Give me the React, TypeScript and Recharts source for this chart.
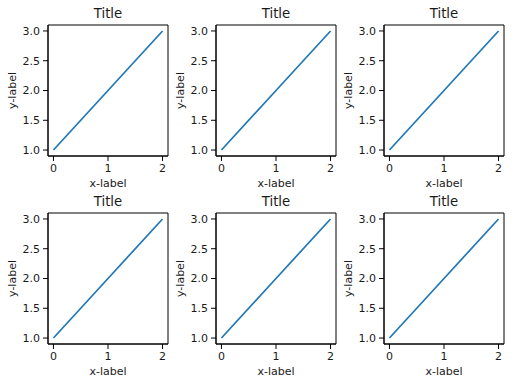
import React from 'react';
import { LineChart, Line, XAxis, YAxis, ReferenceArea } from 'recharts';

const xValues = [0, 1, 2];
const yValues = [1, 2, 3];
const xTicks = [0, 1, 2];
const yTicks = [1.0, 1.5, 2.0, 2.5, 3.0];
const titles = ['Title', 'Title', 'Title', 'Title', 'Title', 'Title'];
const xLabel = 'x-label';
const yLabel = 'y-label';

const data = xValues.map((x, i) => ({ x, y: yValues[i] }));

const FONT = 'DejaVu Sans, sans-serif';
const COL_W = 168;
const ROW_H = 188;
const PLOT_L = 48;
const PLOT_T = 25;
const PLOT_W = 120;
const PLOT_H = 131;
const TEXT = '#1a1a1a';

function Panel({ left, top }: { left: number; top: number }) {
  return (
    <div style={{ position: 'absolute', left, top, width: 170, height: 188 }}>
      <LineChart width={170} height={188} data={data} margin={{ top: PLOT_T, right: 2, bottom: 0, left: 0 }}>
        <XAxis
          dataKey="x"
          type="number"
          domain={[-0.1, 2.1]}
          ticks={xTicks}
          height={32}
          tickSize={5}
          tickMargin={3}
          axisLine={{ stroke: '#000', strokeWidth: 1 }}
          tickLine={{ stroke: '#000', strokeWidth: 1 }}
          tick={{ fill: TEXT, fontSize: 11, fontFamily: FONT }}
          allowDataOverflow
        />
        <YAxis
          type="number"
          domain={[0.9, 3.1]}
          ticks={yTicks}
          width={48}
          tickSize={5}
          tickMargin={3}
          tickFormatter={(v: number) => v.toFixed(1)}
          axisLine={{ stroke: '#000', strokeWidth: 1 }}
          tickLine={{ stroke: '#000', strokeWidth: 1 }}
          tick={{ fill: TEXT, fontSize: 11, fontFamily: FONT }}
          allowDataOverflow
        />
        <ReferenceArea x1={-0.1} x2={2.1} y1={0.9} y2={3.1} fill="none" stroke="#000" strokeWidth={1} fillOpacity={0} />
        <Line type="linear" dataKey="y" stroke="#1f77b4" strokeWidth={1.7} dot={false} isAnimationActive={false} />
      </LineChart>
    </div>
  );
}

export default function App() {
  const panels: { r: number; c: number }[] = [];
  for (let r = 0; r < 2; r++) for (let c = 0; c < 3; c++) panels.push({ r, c });
  return (
    <div style={{ position: 'absolute', left: 0, top: 0, width: 512, height: 384, background: '#fff', fontFamily: FONT, overflow: 'hidden' }}>
      {panels.map(({ r, c }) => (
        <Panel key={`${r}-${c}`} left={c * COL_W} top={r * ROW_H} />
      ))}
      <svg width={512} height={384} style={{ position: 'absolute', left: 0, top: 0, pointerEvents: 'none' }}>
        {panels.map(({ r, c }, i) => {
          const cx = c * COL_W + PLOT_L + PLOT_W / 2;
          const cy = r * ROW_H + PLOT_T + PLOT_H / 2;
          const lx = c * COL_W + 15.5;
          return (
            <g key={i} fontFamily={FONT} fill={TEXT}>
              <text x={cx} y={r * ROW_H + 18.3} textAnchor="middle" fontSize={13.3}>{titles[i]}</text>
              <text x={cx} y={r * ROW_H + 186.5} textAnchor="middle" fontSize={11}>{xLabel}</text>
              <text x={lx} y={cy} textAnchor="middle" fontSize={11} transform={`rotate(-90, ${lx}, ${cy})`}>{yLabel}</text>
            </g>
          );
        })}
      </svg>
    </div>
  );
}
